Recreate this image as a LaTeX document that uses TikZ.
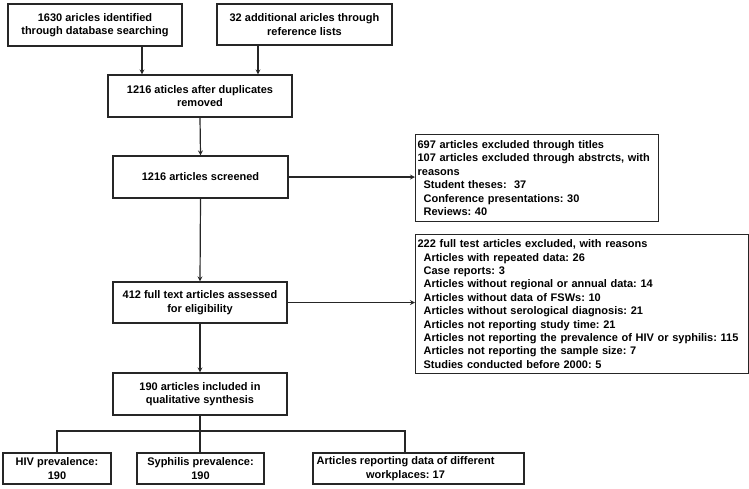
\documentclass[tikz,border=0pt]{standalone}
\usepackage{fontspec}
\setmainfont{Liberation Sans}
\frenchspacing
\begin{document}
\begin{tikzpicture}[x=1pt,y=-1pt,font=\fontsize{11}{13.4}\selectfont\bfseries,>=stealth]
     \tikzstyle{box}=[draw=black!85, line width=1.2pt, align=center, inner sep=2pt]
     \tikzstyle{listbox}=[draw=black!85, line width=1.2pt, align=left, anchor=north west, inner xsep=2pt, inner ysep=2pt]
     \tikzstyle{arrow}=[draw=black!85, line width=1.2pt, ->]
     \tikzstyle{branch}=[draw=black!85, line width=1.2pt]
     \useasboundingbox (0,0) rectangle (749,488);
     \node[box, minimum width=174pt, minimum height=42pt] (src1) at (95,25) {1630 aricles identified\\through database searching};
     \node[box, minimum width=175pt, minimum height=41pt] (src2) at (304.5,24.5) {32 additional aricles through\\reference lists};
     \node[box, minimum width=184pt, minimum height=42pt] (dedup) at (200,96) {1216 aticles after duplicates\\removed};
     \node[box, minimum width=175pt, minimum height=42pt] (screen) at (200.5,177) {1216 articles screened};
     \node[listbox, text width=239pt, minimum height=87pt] (excl1) at (415,134) {697 articles excluded through titles\\
       107 articles excluded through abstrcts, with\\
       reasons\\
       \hspace*{6pt}Student theses:\ \ 37\\
       \hspace*{6pt}Conference presentations: 30\\
       \hspace*{6pt}Reviews: 40};
     \node[box, minimum width=174pt, minimum height=41pt] (full) at (200,302.5) {412 full text articles assessed\\for eligibility};
     \node[listbox, text width=329pt, minimum height=139pt] (excl2) at (415,234) {222 full test articles excluded, with reasons\\
       \hspace*{6pt}Articles with repeated data: 26\\
       \hspace*{6pt}Case reports: 3\\
       \hspace*{6pt}Articles without regional or annual data: 14\\
       \hspace*{6pt}Articles without data of FSWs: 10\\
       \hspace*{6pt}Articles without serological diagnosis: 21\\
       \hspace*{6pt}Articles not reporting study time: 21\\
       \hspace*{6pt}Articles not reporting the prevalence of HIV or syphilis: 115\\
       \hspace*{6pt}Articles not reporting the sample size: 7\\
       \hspace*{6pt}Studies conducted before 2000: 5};
     \node[box, minimum width=174pt, minimum height=42pt] (incl) at (200,394) {190 articles included in\\qualitative synthesis};
     \node[box, minimum width=108pt, minimum height=31pt, inner ysep=1pt] (hiv) at (57,468.5) {HIV prevalence:\\190};
     \node[box, minimum width=127pt, minimum height=31pt, inner ysep=1pt] (syph) at (200.5,468.5) {Syphilis prevalence:\\190};
     \node[box, minimum width=211pt, minimum height=31pt, inner xsep=0pt, inner ysep=1pt] (work) at (418.5,468.5)
       {\parbox{185pt}{\centering Articles reporting data of different\\workplaces: 17}\hspace*{26pt}};
     \coordinate (in1) at ([xshift=-58pt]dedup.north);
     \coordinate (in2) at ([xshift=58pt]dedup.north);
     \coordinate (split) at (200,431);
     \draw[arrow] (src1.south -| in1) -- (in1);
     \draw[arrow] (src2.south -| in2) -- (in2);
     \draw[arrow] (dedup.south) -- (screen.north);
     \draw[arrow] (screen.east) -- (screen.east -| excl1.west);
     \draw[arrow] (screen.south) -- (full.north);
     \draw[arrow] (full.east) -- (full.east -| excl2.west);
     \draw[arrow] (full.south) -- (incl.north);
     \draw[branch] (incl.south) -- (split);
     \draw[branch] (split) -- (split |- syph.north);
     \draw[branch] (split) -| (hiv.north);
     \draw[branch] (split) -| ([xshift=-13.5pt]work.north);
\end{tikzpicture}
\end{document}
